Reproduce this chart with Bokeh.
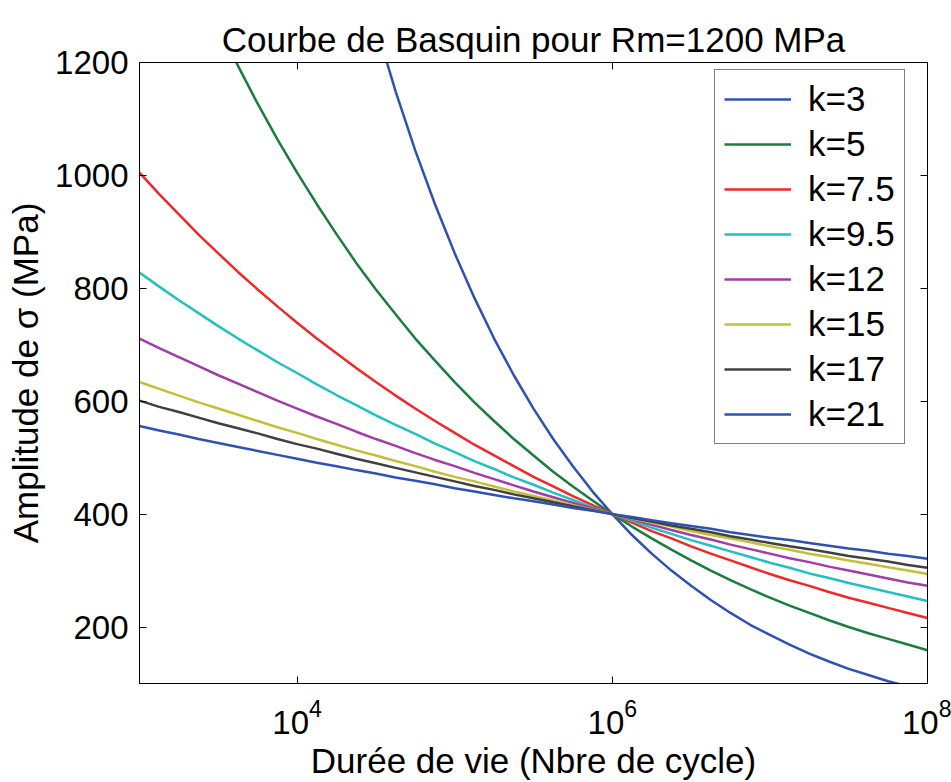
from bokeh.plotting import figure
from bokeh.models import (Range1d, FixedTicker, LogAxis, LinearAxis, Legend, LegendItem,
                          CustomJSTickFormatter)
from bokeh.embed import file_html
from bokeh.resources import INLINE

# Number of cycles (eighth decades from 1e3 to 1e8)
N_CYCLES = [1000, 1334, 1778, 2371, 3162, 4217, 5623, 7499,
            10000, 13335, 17783, 23714, 31623, 42170, 56234, 74989,
            100000, 133352, 177828, 237137, 316228, 421697, 562341, 749894,
            1000000, 1333521, 1778279, 2371374, 3162278, 4216965, 5623413, 7498942,
            10000000, 13335214, 17782794, 23713737, 31622777, 42169650, 56234133, 74989421,
            100000000]

K_LABELS = ["k=3", "k=5", "k=7.5", "k=9.5", "k=12", "k=15", "k=17", "k=21"]

SIGMA_K3 = [4000, 3634, 3302, 2999, 2725, 2476, 2249, 2044, 1857, 1687, 1532, 1392, 1265, 1149,
            1044, 949, 862, 783, 711, 646, 587, 533, 485, 440, 400, 363, 330, 300, 273, 248,
            225, 204, 186, 169, 153, 139, 126, 115, 104, 95, 86]
SIGMA_K5 = [1592, 1503, 1419, 1340, 1265, 1194, 1127, 1064, 1005, 949, 896, 845, 798, 754,
            711, 672, 634, 598, 565, 533, 504, 475, 449, 424, 400, 378, 357, 337, 318, 300,
            283, 267, 252, 238, 225, 212, 200, 189, 179, 169, 159]
SIGMA_K7_5 = [1005, 967, 931, 895, 862, 829, 798, 768, 739, 711, 685, 659, 634, 610, 587,
              565, 544, 523, 504, 485, 466, 449, 432, 416, 400, 385, 370, 357, 343, 330, 318,
              306, 294, 283, 273, 262, 252, 243, 234, 225, 216]
SIGMA_K9_5 = [828, 803, 779, 756, 733, 711, 690, 669, 650, 630, 611, 593, 575, 558, 542,
              525, 510, 494, 480, 465, 452, 438, 425, 412, 400, 388, 376, 365, 354, 344, 334,
              324, 314, 305, 295, 287, 278, 270, 262, 254, 246]
SIGMA_K12 = [711, 694, 678, 662, 646, 631, 616, 601, 587, 573, 560, 546, 533, 521, 508,
             496, 485, 473, 462, 451, 440, 430, 420, 410, 400, 391, 381, 372, 363, 355, 346,
             338, 330, 322, 315, 307, 300, 293, 286, 279, 273]
SIGMA_K15 = [634, 622, 610, 598, 587, 576, 565, 554, 544, 533, 523, 513, 504, 494, 485,
             475, 466, 458, 449, 440, 432, 424, 416, 408, 400, 392, 385, 378, 370, 363, 357,
             350, 343, 337, 330, 324, 318, 312, 306, 300, 294]
SIGMA_K17 = [601, 590, 581, 571, 561, 552, 543, 533, 524, 516, 507, 498, 490, 482, 474,
             466, 458, 450, 443, 435, 428, 421, 414, 407, 400, 393, 387, 380, 374, 368, 361,
             355, 349, 343, 338, 332, 326, 321, 316, 310, 305]
SIGMA_K21 = [556, 548, 541, 533, 526, 519, 512, 505, 498, 491, 485, 478, 472, 465, 459,
             453, 446, 440, 434, 428, 423, 417, 411, 406, 400, 395, 389, 384, 379, 374, 368,
             363, 358, 354, 349, 344, 339, 335, 330, 326, 321]

SERIES = [SIGMA_K3, SIGMA_K5, SIGMA_K7_5, SIGMA_K9_5, SIGMA_K12, SIGMA_K15, SIGMA_K17, SIGMA_K21]
COLORS = ["#2f52b2", "#1a7d3e", "#f02828", "#22c0c0", "#a23ca6", "#c2c038", "#404040", "#2f52b2"]

X_TICKS = [1e4, 1e6, 1e8]
Y_TICKS = [200, 400, 600, 800, 1000, 1200]

FONT = "Liberation Sans"

p = figure(width=951, height=782, x_axis_type="log",
           x_range=Range1d(1e3, 1e8), y_range=Range1d(100, 1200),
           output_backend="svg", toolbar_location=None,
           min_border_left=139, min_border_right=24,
           min_border_top=62, min_border_bottom=97,
           background_fill_color="white", border_fill_color="white")

p.title.text = "Courbe de Basquin pour Rm=1200 MPa"
p.title.align = "center"
p.title.text_font = FONT
p.title.text_font_size = "35px"
p.title.text_font_style = "normal"
p.title.text_color = "black"
p.title.standoff = 7

p.xgrid.visible = False
p.ygrid.visible = False
p.outline_line_color = "black"
p.outline_line_width = 1
p.outline_line_alpha = 1

for ax in (p.xaxis[0], p.yaxis[0]):
    ax.axis_line_color = "black"
    ax.major_tick_line_color = "black"
    ax.major_tick_in = 7
    ax.major_tick_out = 0
    ax.minor_tick_line_color = None
    ax.major_label_text_font = FONT
    ax.major_label_text_font_size = "33px"
    ax.major_label_text_color = "black"
    ax.axis_label_text_font = FONT
    ax.axis_label_text_font_size = "35px"
    ax.axis_label_text_font_style = "normal"
    ax.axis_label_text_color = "black"

p.xaxis[0].major_label_standoff = 15
p.xaxis[0].axis_label_standoff = 4
p.yaxis[0].major_label_standoff = 11
p.yaxis[0].axis_label_standoff = 7

p.xaxis[0].ticker = FixedTicker(ticks=X_TICKS)
p.yaxis[0].ticker = FixedTicker(ticks=Y_TICKS)
p.xaxis[0].axis_label = "Durée de vie (Nbre de cycle)"
p.yaxis[0].axis_label = "Amplitude de σ (MPa)"

top_ax = LogAxis(ticker=FixedTicker(ticks=X_TICKS), major_tick_in=7, major_tick_out=0,
                 minor_tick_line_color=None, formatter=CustomJSTickFormatter(code="return ''"),
                 major_label_standoff=0, major_label_text_font_size="1px",
                 axis_line_color="black", major_tick_line_color="black")
p.add_layout(top_ax, "above")
right_ax = LinearAxis(ticker=FixedTicker(ticks=Y_TICKS), major_tick_in=7, major_tick_out=0,
                      minor_tick_line_color=None, formatter=CustomJSTickFormatter(code="return ''"),
                      major_label_standoff=0, major_label_text_font_size="1px",
                      axis_line_color="black", major_tick_line_color="black")
p.add_layout(right_ax, "right")

items = []
for lab, ys, col in zip(K_LABELS, SERIES, COLORS):
    r = p.line(N_CYCLES, ys, line_color=col, line_width=2.5)
    items.append(LegendItem(label=lab, renderers=[r]))

legend = Legend(items=items, location=(575, 239))
legend.label_text_font = FONT
legend.label_text_font_size = "35px"
legend.label_text_color = "black"
legend.glyph_width = 67
legend.glyph_height = 40
legend.label_height = 40
legend.spacing = 5
legend.padding = 9
legend.margin = 0
legend.label_standoff = 17
legend.border_line_color = "black"
legend.border_line_width = 1
legend.background_fill_color = "white"
legend.background_fill_alpha = 1
p.add_layout(legend)

open("out.html", "w").write(file_html(p, INLINE))
